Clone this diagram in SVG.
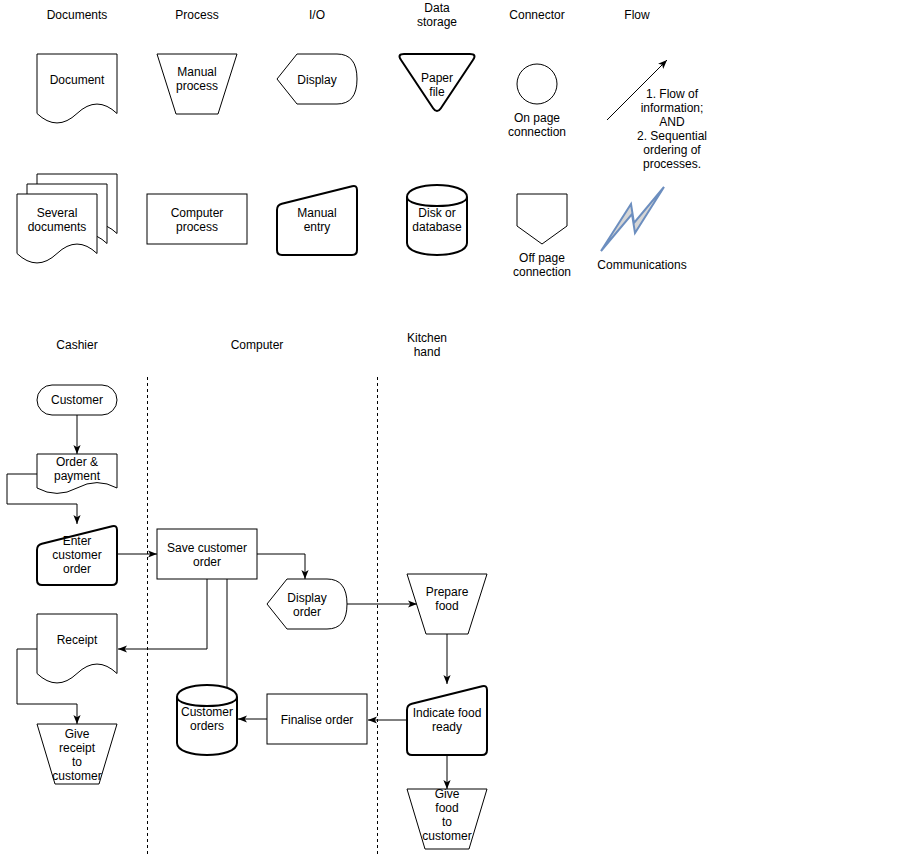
<svg xmlns="http://www.w3.org/2000/svg" width="917" height="856" viewBox="0 0 917 856">
<defs>
<style>
.s{fill:#fff;stroke:#000;stroke-width:1}
.t{fill:#fff;stroke:#000;stroke-width:2}
text{font-family:"Liberation Sans",Arial,sans-serif;font-size:12px;fill:#000;text-anchor:middle}
.c{fill:none;stroke:#000;stroke-width:1}
.d{fill:none;stroke:#000;stroke-width:1;stroke-dasharray:3 3}
</style>
<marker id="a" viewBox="0 0 10 10" refX="10" refY="5" markerWidth="9" markerHeight="9" markerUnits="userSpaceOnUse" orient="auto">
<path d="M0,1 L10,5 L0,9 L2.5,5 Z" fill="#000"/>
</marker>
</defs>
<rect width="917" height="856" fill="#fff"/>

<g id="legend-labels">
<text x="77" y="19">Documents</text>
<text x="197" y="19">Process</text>
<text x="317" y="19">I/O</text>
<text x="437" y="12">Data</text>
<text x="437" y="26">storage</text>
<text x="537" y="19">Connector</text>
<text x="637" y="19">Flow</text>
</g>

<g id="document">
<path class="s" d="M37,54 L117,54 L117,113.5 Q97,94.6 77,113.5 Q57,132.4 37,113.5 Z"/>
<text x="77" y="84">Document</text>
</g>
<g id="manual-process">
<path class="s" d="M157,54 L237,54 L218,114 L176,114 Z"/>
<text x="197" y="76">Manual</text>
<text x="197" y="90">process</text>
</g>
<g id="display">
<path class="s" d="M277,79 L297,54 L337,54 Q357,54 357,79 Q357,104 337,104 L297,104 Z"/>
<text x="317" y="84">Display</text>
</g>
<g id="paper-file">
<path class="t" d="M404,54 L470,54 Q477,54 473.12,59.82 L440.88,108.18 Q437,114 433.12,108.18 L400.88,59.82 Q397,54 404,54 Z"/>
<text x="437" y="82">Paper</text>
<text x="437" y="96">file</text>
</g>
<g id="on-page">
<circle class="s" cx="537" cy="84" r="20"/>
<text x="537" y="122">On page</text>
<text x="537" y="136">connection</text>
</g>
<g id="flow">
<text x="672" y="98">1. Flow of</text>
<text x="672" y="112">information;</text>
<text x="672" y="126">AND</text>
<text x="672" y="140">2. Sequential</text>
<text x="672" y="154">ordering of</text>
<text x="672" y="168">processes.</text>
</g>

<g id="several-documents">
<path class="s" d="M37,174 L117,174 L117,233.5 Q97,214.6 77,233.5 Q57,252.4 37,233.5 Z"/>
<path class="s" d="M27,184 L107,184 L107,243.5 Q87,224.6 67,243.5 Q47,262.4 27,243.5 Z"/>
<path class="s" d="M17,194 L97,194 L97,253.5 Q77,234.6 57,253.5 Q37,272.4 17,253.5 Z"/>
<text x="57" y="217">Several</text>
<text x="57" y="231">documents</text>
</g>
<g id="computer-process">
<rect class="s" x="147" y="194" width="100" height="50"/>
<text x="197" y="217">Computer</text>
<text x="197" y="231">process</text>
</g>
<g id="manual-entry">
<path class="t" d="M281.85,203.79 L352.15,186.21 Q357,185 357,190 L357,250 Q357,255 352,255 L282,255 Q277,255 277,250 L277,210 Q277,205 281.85,203.79 Z"/>
<text x="317" y="217">Manual</text>
<text x="317" y="231">entry</text>
</g>
<g id="disk">
<path class="t" d="M407,197 C407,181 467,181 467,197 L467,243 C467,259 407,259 407,243 Z"/>
<path class="t" fill="none" d="M407,197 C407,209 467,209 467,197"/>
<text x="437" y="217">Disk or</text>
<text x="437" y="231">database</text>
</g>
<g id="off-page">
<path class="s" d="M517,194 L567,194 L567,226 L542,244 L517,226 Z"/>
<text x="542" y="262">Off page</text>
<text x="542" y="276">connection</text>
</g>
<g id="communications">
<path d="M601,251 L631,204 L634,223 L664,187 L635,233 L632,214 Z" fill="#d5d5d5" stroke="#6c8ebf" stroke-width="2" stroke-linejoin="miter"/>
<text x="642" y="269">Communications</text>
</g>

<g id="lane-labels">
<text x="77" y="349">Cashier</text>
<text x="257" y="349">Computer</text>
<text x="427" y="342">Kitchen</text>
<text x="427" y="356">hand</text>
</g>

<g id="connectors">
<line class="d" x1="147.5" y1="377" x2="147.5" y2="856"/>
<line class="d" x1="377.5" y1="377" x2="377.5" y2="856"/>
<line class="c" x1="607" y1="120" x2="667" y2="60" marker-end="url(#a)"/>
<path class="c" d="M77,415 L77,454" marker-end="url(#a)"/>
<path class="c" d="M37,474 L7,474 L7,504 L77,504 L77,524" marker-end="url(#a)"/>
<path class="c" d="M117,554 L157,554" marker-end="url(#a)"/>
<path class="c" d="M257,554 L305,554 L305,579" marker-end="url(#a)"/>
<path class="c" d="M347,604 L417,604" marker-end="url(#a)"/>
<path class="c" d="M447,634 L447,684" marker-end="url(#a)"/>
<path class="c" d="M407,720 L368,720" marker-end="url(#a)"/>
<path class="c" d="M267,719 L238,719" marker-end="url(#a)"/>
<path class="c" d="M227,579 L227,687"/>
<path class="c" d="M207,579 L207,649 L118,649" marker-end="url(#a)"/>
<path class="c" d="M37,649 L17,649 L17,704 L77,704 L77,724" marker-end="url(#a)"/>
<path class="c" d="M447,755 L447,789" marker-end="url(#a)"/>
</g>

<g id="customer">
<rect class="s" x="37" y="385" width="80" height="30" rx="15" ry="15"/>
<text x="77" y="404">Customer</text>
</g>
<g id="order-payment">
<path class="s" d="M37,454 L117,454 L117,488 Q97,477.2 77,488 Q57,498.8 37,488 Z"/>
<text x="77" y="466">Order &amp;</text>
<text x="77" y="480">payment</text>
</g>
<g id="enter-order">
<path class="t" d="M41.85,543.79 L112.15,526.21 Q117,525 117,530 L117,580 Q117,585 112,585 L42,585 Q37,585 37,580 L37,550 Q37,545 41.85,543.79 Z"/>
<text x="77" y="545">Enter</text>
<text x="77" y="559">customer</text>
<text x="77" y="573">order</text>
</g>
<g id="save-order">
<rect class="s" x="157" y="529" width="100" height="50"/>
<text x="207" y="552">Save customer</text>
<text x="207" y="566">order</text>
</g>
<g id="display-order">
<path class="s" d="M267,604 L287,579 L327,579 Q347,579 347,604 Q347,629 327,629 L287,629 Z"/>
<text x="307" y="602">Display</text>
<text x="307" y="616">order</text>
</g>
<g id="prepare-food">
<path class="s" d="M407,574 L487,574 L468,634 L426,634 Z"/>
<text x="447" y="596">Prepare</text>
<text x="447" y="610">food</text>
</g>
<g id="receipt">
<path class="s" d="M37,614 L117,614 L117,673.5 Q97,654.6 77,673.5 Q57,692.4 37,673.5 Z"/>
<text x="77" y="644">Receipt</text>
</g>
<g id="indicate-food">
<path class="t" d="M411.85,703.79 L482.15,686.21 Q487,685 487,690 L487,750 Q487,755 482,755 L412,755 Q407,755 407,750 L407,710 Q407,705 411.85,703.79 Z"/>
<text x="447" y="717">Indicate food</text>
<text x="447" y="731">ready</text>
</g>
<g id="finalise-order">
<rect class="s" x="267" y="694" width="100" height="50"/>
<text x="317" y="724">Finalise order</text>
</g>
<g id="customer-orders">
<path class="t" d="M177,697 C177,681 237,681 237,697 L237,743 C237,759 177,759 177,743 Z"/>
<path class="t" fill="none" d="M177,697 C177,709 237,709 237,697"/>
<text x="207" y="716">Customer</text>
<text x="207" y="730">orders</text>
</g>
<g id="give-receipt">
<path class="s" d="M37,724 L117,724 L99,784 L55,784 Z"/>
<text x="77" y="738">Give</text>
<text x="77" y="752">receipt</text>
<text x="77" y="766">to</text>
<text x="77" y="780">customer</text>
</g>
<g id="give-food">
<path class="s" d="M407,789 L487,789 L469,849 L425,849 Z"/>
<text x="447" y="798">Give</text>
<text x="447" y="812">food</text>
<text x="447" y="826">to</text>
<text x="447" y="840">customer</text>
</g>
</svg>
